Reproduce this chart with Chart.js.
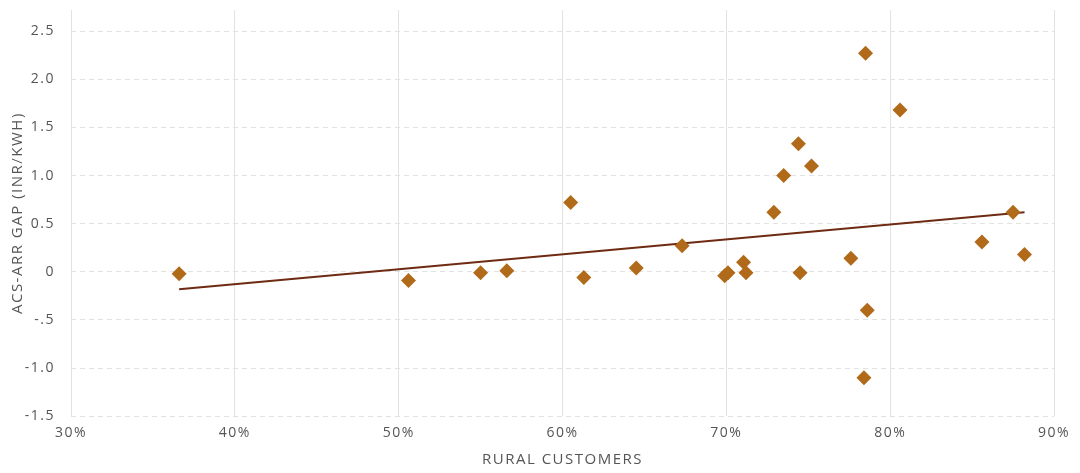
<!DOCTYPE html>
<html>
<head>
<meta charset="utf-8">
<script src="https://cdn.jsdelivr.net/npm/chart.js@4/dist/chart.umd.min.js"></script>
<style>
  html, body { margin: 0; padding: 0; background: #fff; }
  #wrap { width: 1080px; height: 473px; }
</style>
</head>
<body>
<div id="wrap"><canvas id="gapChart"></canvas></div>
<script>
// share of rural customers (%) and ACS-ARR gap (INR/kWh)
const ruralShare = [36.6, 50.6, 55.0, 56.6, 60.5, 61.3, 64.5, 67.3, 69.9, 70.1, 71.05, 71.2,
  72.9, 73.5, 74.4, 74.5, 75.2, 77.6, 78.4, 78.5, 78.6, 80.6, 85.6, 87.5, 88.2];
const gapValues = [-0.02, -0.09, -0.01, 0.01, 0.72, -0.06, 0.04, 0.27, -0.04, -0.01, 0.10, -0.01,
  0.62, 1.00, 1.33, -0.01, 1.10, 0.14, -1.10, 2.27, -0.40, 1.68, 0.31, 0.62, 0.18];

// trend line endpoints
const trendX = [36.6, 88.2];
const trendY = [-0.18, 0.62];

const yTickLabels = { '2.5': '2.5', '2': '2.0', '1.5': '1.5', '1': '1.0', '0.5': '0.5', '0': '0', '-0.5': '-.5', '-1': '-1.0', '-1.5': '-1.5' };

const points = ruralShare.map((x, i) => ({ x: x, y: gapValues[i] }));
const trend = trendX.map((x, i) => ({ x: x, y: trendY[i] }));

const fontFamily = "'Open Sans', 'Noto Sans', sans-serif";
const textColor = '#555555';

// wider letter spacing like the original typeface
const spacing = {
  id: 'spacing',
  beforeUpdate(chart) { chart.ctx.letterSpacing = '1.5px'; },
  beforeDraw(chart) { chart.ctx.letterSpacing = '1.5px'; }
};

const ctx = document.getElementById('gapChart').getContext('2d');
new Chart(ctx, {
  type: 'scatter',
  data: {
    datasets: [
      {
        label: 'Trend',
        type: 'line',
        data: trend,
        borderColor: '#6e2a12',
        borderWidth: 2,
        pointRadius: 0,
        fill: false,
        order: 2
      },
      {
        label: 'Discoms',
        data: points,
        pointStyle: 'rectRot',
        pointRadius: 7.5,
        pointHoverRadius: 7.5,
        backgroundColor: '#b06a1a',
        borderColor: '#b06a1a',
        borderWidth: 0,
        order: 1
      }
    ]
  },
  options: {
    responsive: true,
    maintainAspectRatio: false,
    animation: false,
    layout: { padding: { top: 10, right: 26, left: 9, bottom: 4 } },
    plugins: {
      legend: { display: false },
      tooltip: { enabled: false }
    },
    scales: {
      x: {
        type: 'linear',
        min: 30,
        max: 90,
        border: { display: false },
        grid: { color: '#e2e2e2', lineWidth: 1, drawTicks: false },
        ticks: {
          stepSize: 10,
          padding: 8,
          color: textColor,
          font: { family: fontFamily, size: 14 },
          callback: (v) => v + '%'
        },
        title: {
          display: true,
          text: 'RURAL CUSTOMERS',
          color: textColor,
          font: { family: fontFamily, size: 15 },
          padding: { top: 2, bottom: 0 }
        }
      },
      y: {
        type: 'linear',
        min: -1.5,
        max: 2.72,
        border: { display: false, dash: [5, 4] },
        grid: { color: '#e2e2e2', lineWidth: 1, drawTicks: false },
        afterBuildTicks: (axis) => {
          axis.ticks = axis.ticks.filter(t => t.value <= 2.5 + 1e-9);
        },
        afterFit: (axis) => {
          axis.width = 62;
          axis.paddingTop = 0;
          axis.paddingBottom = 0;
        },
        ticks: {
          stepSize: 0.5,
          padding: 16,
          color: textColor,
          font: { family: fontFamily, size: 14 },
          callback: (v) => yTickLabels[String(Math.round(v * 10) / 10)] ?? ''
        },
        title: {
          display: true,
          text: 'ACS-ARR GAP (INR/KWH)',
          color: textColor,
          font: { family: fontFamily, size: 15 },
          padding: { top: 0, bottom: 0 }
        }
      }
    }
  },
  plugins: [spacing]
});
</script>
</body>
</html>
